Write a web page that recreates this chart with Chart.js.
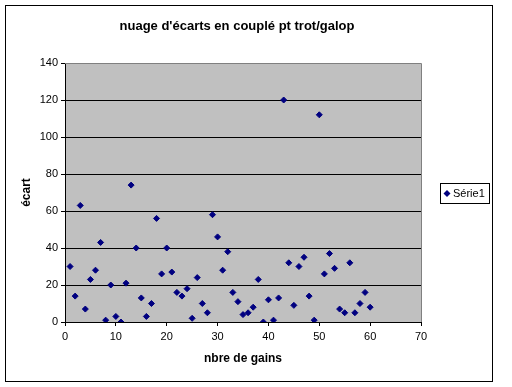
<!DOCTYPE html>
<html>
<head>
<meta charset="utf-8">
<title>nuage d'écarts</title>
<script src="https://cdn.jsdelivr.net/npm/chart.js@4/dist/chart.umd.min.js"></script>
<style>
  html, body { margin: 0; padding: 0; background: #fff; }
  #wrap { width: 512px; height: 387px; }
</style>
</head>
<body>
<div id="wrap"><canvas id="scatterChart" width="512" height="387"></canvas></div>
<script>
// data: one point per number of gains
const gains = [
  1, 2, 3, 4, 5, 6, 7, 8, 9, 10,
  11, 12, 13, 14, 15, 16, 17, 18, 19, 20,
  21, 22, 23, 24, 25, 26, 27, 28, 29, 30,
  31, 32, 33, 34, 35, 36, 37, 38, 39, 40,
  41, 42, 43, 44, 45, 46, 47, 48, 49, 50,
  51, 52, 53, 54, 55, 56, 57, 58, 59, 60,
];
const ecarts = [
  30, 14, 63, 7, 23, 28, 43, 1, 20, 3,
  0, 21, 74, 40, 13, 3, 10, 56, 26, 40,
  27, 16, 14, 18, 2, 24, 10, 5, 58, 46,
  28, 38, 16, 11, 4, 5, 8, 23, 0, 12,
  1, 13, 120, 32, 9, 30, 35, 14, 1, 112,
  26, 37, 29, 7, 5, 32, 5, 10, 16, 8,
];
const xTicks = [0, 10, 20, 30, 40, 50, 60, 70];
const yTicks = [0, 20, 40, 60, 80, 100, 120, 140];
const seriesName = "Série1";
const chartTitle = "nuage d'écarts en couplé pt trot/galop";

document.addEventListener("DOMContentLoaded", function () {
  const ctx = document.getElementById("scatterChart").getContext("2d");
  const navy = "#000080";
  const font = "'Liberation Sans', Arial, sans-serif";

  // grey plot area, outer frame, title and legend box (Excel look)
  const excelFrame = {
    id: "excelFrame",
    beforeDraw(chart) {
      const c = chart.ctx;
      const a = chart.chartArea;
      c.save();
      c.fillStyle = "#fff";
      c.fillRect(0, 0, chart.width, chart.height);
      c.fillStyle = "#c0c0c0";
      c.fillRect(a.left, a.top, a.right - a.left, a.bottom - a.top);
      c.restore();
    },
    afterDraw(chart) {
      const c = chart.ctx;
      const a = chart.chartArea;
      c.save();
      // plot border, top and right
      c.strokeStyle = "#808080";
      c.lineWidth = 1;
      c.beginPath();
      c.moveTo(a.left, a.top + 0.5);
      c.lineTo(a.right + 0.5, a.top + 0.5);
      c.lineTo(a.right + 0.5, a.bottom);
      c.stroke();
      // outer frame
      c.strokeStyle = "#000";
      c.strokeRect(5.5, 5.5, 487, 376);
      // title
      c.fillStyle = "#000";
      c.font = "bold 13px " + font;
      c.textAlign = "center";
      c.textBaseline = "middle";
      c.fillText(chartTitle, 237, 26);
      // legend
      c.fillStyle = "#fff";
      c.fillRect(440, 183, 49, 20);
      c.strokeStyle = "#000";
      c.strokeRect(440.5, 183.5, 49, 20);
      c.fillStyle = navy;
      c.beginPath();
      c.moveTo(443.5, 193.5);
      c.lineTo(447, 190);
      c.lineTo(450.5, 193.5);
      c.lineTo(447, 197);
      c.closePath();
      c.fill();
      c.fillStyle = "#000";
      c.font = "11px " + font;
      c.textAlign = "left";
      c.fillText(seriesName, 453, 194);
      c.restore();
    },
  };

  new Chart(ctx, {
    type: "scatter",
    data: {
      datasets: [
        {
          label: seriesName,
          data: gains.map((g, i) => ({ x: g, y: ecarts[i] })),
          pointStyle: "rectRot",
          pointRadius: 3,
          pointBorderWidth: 1,
          backgroundColor: navy,
          borderColor: navy,
        },
      ],
    },
    options: {
      responsive: false,
      animation: false,
      layout: { padding: { top: 63, right: 91, bottom: 0, left: 0 } },
      plugins: {
        legend: { display: false },
        title: { display: false },
        tooltip: { enabled: false },
      },
      scales: {
        x: {
          type: "linear",
          min: 0,
          max: 70,
          afterBuildTicks: (scale) => {
            scale.ticks = xTicks.map((v) => ({ value: v }));
          },
          afterFit: (scale) => {
            scale.height = 65;
          },
          border: { color: "#000", width: 1 },
          grid: {
            drawOnChartArea: false,
            drawTicks: true,
            tickLength: 4,
            tickColor: "#000",
          },
          ticks: {
            color: "#000",
            padding: 4,
            font: { family: font, size: 11 },
          },
          title: {
            display: true,
            text: "nbre de gains",
            color: "#000",
            padding: { top: 0, bottom: 21 },
            font: { family: font, size: 12, weight: "bold" },
          },
        },
        y: {
          type: "linear",
          min: 0,
          max: 140,
          afterBuildTicks: (scale) => {
            scale.ticks = yTicks.map((v) => ({ value: v }));
          },
          afterFit: (scale) => {
            scale.width = 65;
          },
          border: { color: "#000", width: 1 },
          grid: {
            color: (c) => (c.tick && c.tick.value === 140 ? "#808080" : "#000"),
            drawTicks: true,
            tickLength: 4,
            tickColor: "#000",
          },
          ticks: {
            color: "#000",
            padding: 3,
            font: { family: font, size: 11 },
          },
          title: {
            display: true,
            text: "écart",
            color: "#000",
            padding: { top: 19, bottom: 0 },
            font: { family: font, size: 12, weight: "bold" },
          },
        },
      },
    },
    plugins: [excelFrame],
  });
});
</script>
</body>
</html>
